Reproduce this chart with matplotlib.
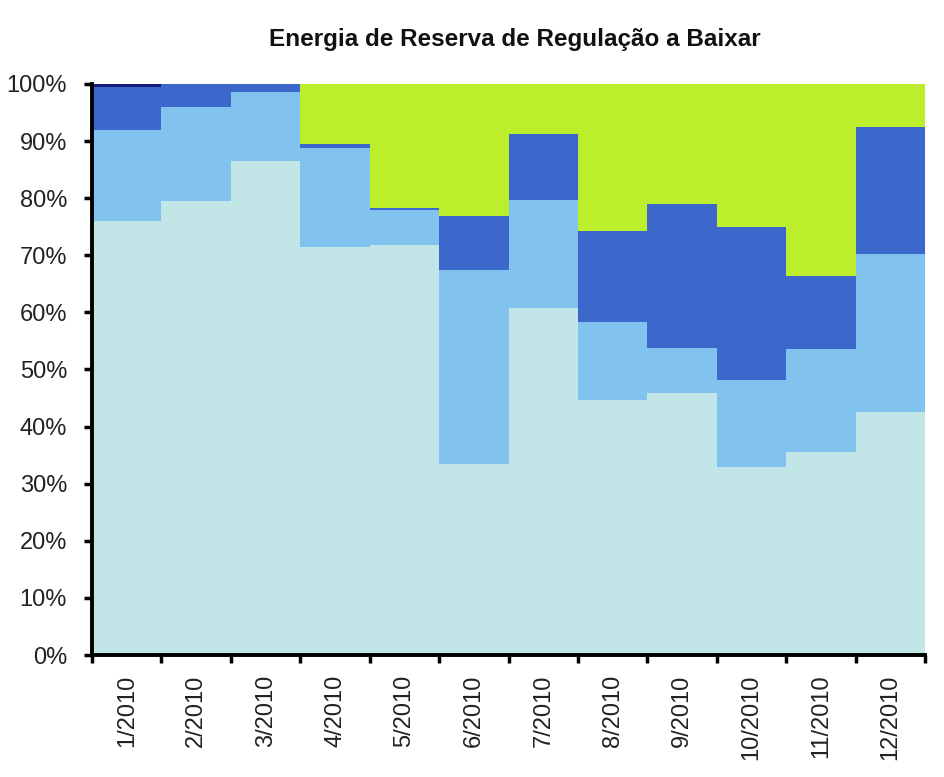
import matplotlib
matplotlib.use("Agg")
import matplotlib.pyplot as plt
import numpy as np

months = ["1/2010", "2/2010", "3/2010", "4/2010", "5/2010", "6/2010",
          "7/2010", "8/2010", "9/2010", "10/2010", "11/2010", "12/2010"]
# shares in percent, bottom to top
s_cyan  = [76.0, 79.5, 86.5, 71.5, 71.8, 33.4, 60.8, 44.6, 45.8, 33.0, 35.6, 42.6]
s_light = [16.0, 16.5, 12.0, 17.3,  6.2, 34.1, 18.9, 13.7,  8.0, 15.1, 17.9, 27.7]
s_dark  = [ 7.5,  4.0,  1.5,  0.7,  0.3,  9.4, 11.6, 16.0, 25.2, 26.9, 12.8, 22.2]
s_lime  = [ 0.0,  0.0,  0.0, 10.5, 21.7, 23.1,  8.7, 25.7, 21.0, 25.0, 33.7,  7.5]
s_navy  = [ 0.5,  0.0,  0.0,  0.0,  0.0,  0.0,  0.0,  0.0,  0.0,  0.0,  0.0,  0.0]

series = [s_cyan, s_light, s_dark, s_lime, s_navy]
colors = ["#C2E6E8", "#82C2EE", "#3C68CC", "#BCEE2C", "#141E78"]

plt.rcParams['font.family'] = ['Liberation Sans', 'DejaVu Sans']
fig = plt.figure(figsize=(9.45, 7.77), dpi=100)
ax = fig.add_axes([0.0974, 0.157, 0.8816, 0.735])

x = np.arange(len(months))
bottom = np.zeros(len(months))
for vals, c in zip(series, colors):
    v = np.array(vals)
    ax.bar(x, v, width=1.0, bottom=bottom, color=c, edgecolor='none', linewidth=0)
    bottom += v

ax.set_xlim(-0.5, len(months) - 0.5)
ax.set_ylim(0, 100)
ax.set_yticks(np.arange(0, 101, 10))
ax.set_yticklabels([f"{v}%" for v in range(0, 101, 10)], fontsize=17, color='#222222')

ax.set_xticks(np.arange(-0.5, len(months), 1.0))
ax.set_xticklabels([])
ax.set_xticks(x, minor=True)
ax.set_xticklabels(months, minor=True, rotation=90, fontsize=17, color='#222222')
ax.tick_params(axis='x', which='minor', length=0, pad=14)
ax.tick_params(axis='x', which='major', length=6, width=2.5, direction='out')
ax.tick_params(axis='y', which='major', length=6, width=2.5, direction='out', pad=12)

for sp in ['top', 'right']:
    ax.spines[sp].set_visible(False)
for sp in ['left', 'bottom']:
    ax.spines[sp].set_linewidth(2.8)

fig.text(0.545, 0.949, "Energia de Reserva de Regulação a Baixar", ha='center', va='center',
         fontsize=17.5, fontweight='bold', color='#111111')

fig.savefig("out.png", dpi=100)
